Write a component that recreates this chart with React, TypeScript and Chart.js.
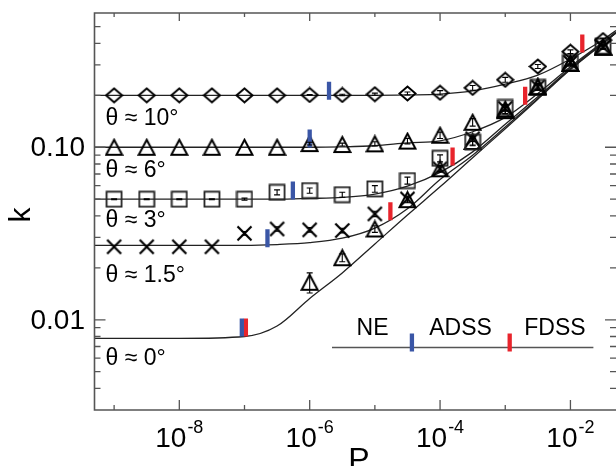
import React, { useEffect, useRef } from "react";
import { Chart, registerables } from "chart.js";

Chart.register(...registerables);

// ---------------- data ----------------
// measured points (P at half-decade steps)
const MARKER_P = [1e-9, 3.16e-9, 1e-8, 3.16e-8, 1e-7, 3.16e-7, 1e-6, 3.16e-6, 1e-5, 3.16e-5, 1e-4, 3.16e-4, 1e-3, 3.16e-3, 1e-2, 3.16e-2];
const K_10 = [0.2, 0.2, 0.2, 0.2, 0.2, 0.2, 0.201, 0.201, 0.203, 0.205, 0.207, 0.221, 0.246, 0.294, 0.358, 0.418];
const ERR_10 = [0, 0, 0, 0, 0, 0, 0.001, 0.002, 0.003, 0.004, 0.006, 0.007, 0.008, 0.008, 0.009, 0.01];
const K_6 = [0.1, 0.1, 0.1, 0.1, 0.1, 0.1, 0.105, 0.1037, 0.1047, 0.1086, 0.1174, 0.1396, 0.166, 0.224, 0.306, 0.38];
const ERR_6 = [0, 0, 0, 0, 0, 0, 0.002, 0.002, 0.003, 0.004, 0.005, 0.007, 0.009, 0.01, 0.01, 0.01];
const K_3 = [0.05, 0.05, 0.05, 0.05, 0.05, 0.0548, 0.0561, 0.0531, 0.0574, 0.0641, 0.0863, 0.107, 0.17, 0.222, 0.31, 0.385];
const ERR_3 = [0.0003, 0.0003, 0.0003, 0.0003, 0.0007, 0.0018, 0.002, 0.0018, 0.0025, 0.003, 0.004, 0.005, 0.007, 0.008, 0.01, 0.01];
const K_15 = [0.0265, 0.0265, 0.0265, 0.0265, 0.0317, 0.0336, 0.0332, 0.0329, 0.0411, 0.0502, 0.075, 0.112, 0.168, 0.224, 0.31, 0.381];
const ERR_15 = [0, 0, 0, 0, 0.0008, 0.001, 0.001, 0.001, 0.0015, 0.002, 0.003, 0.004, 0.006, 0.008, 0.01, 0.01];
const MARKER_P_0 = [1e-6, 3.16e-6, 1e-5, 3.16e-5, 1e-4, 3.16e-4, 1e-3, 3.16e-3, 1e-2, 3.16e-2];
const K_0 = [0.0165, 0.0229, 0.0336, 0.0497, 0.075, 0.108, 0.163, 0.224, 0.306, 0.38];
const ERR_0 = [0.0022, 0.0012, 0.0015, 0.002, 0.003, 0.005, 0.007, 0.009, 0.01, 0.01];

// fitted curves
const CURVE_P = [5e-10, 1e-9, 1e-8, 1e-7, 3.16e-7, 1e-6, 3.16e-6, 1e-5, 3.16e-5, 1e-4, 3.16e-4, 1e-3, 3.16e-3, 1e-2, 3.16e-2, 5e-2];
const FIT_10 = [0.2, 0.2, 0.2, 0.2, 0.2, 0.2, 0.2, 0.2, 0.201, 0.203, 0.212, 0.232, 0.262, 0.325, 0.42, 0.475];
const FIT_6 = [0.1, 0.1, 0.1, 0.1, 0.1, 0.1, 0.1005, 0.102, 0.106, 0.109, 0.123, 0.149, 0.205, 0.293, 0.407, 0.465];
const FIT_3 = [0.05, 0.05, 0.05, 0.05, 0.05, 0.0505, 0.0512, 0.0535, 0.0595, 0.0715, 0.094, 0.136, 0.196, 0.287, 0.403, 0.462];
const FIT_15 = [0.027, 0.027, 0.027, 0.027, 0.0273, 0.028, 0.0297, 0.034, 0.044, 0.065, 0.09, 0.131, 0.192, 0.284, 0.401, 0.46];
const FIT_0 = [0.0078, 0.0078, 0.0078, 0.008, 0.0092, 0.0133, 0.0187, 0.0275, 0.0405, 0.059, 0.087, 0.128, 0.19, 0.282, 0.4, 0.46];

// regime boundary marks (blue: NE -> ADSS, red: ADSS -> FDSS), order 10°,6°,3°,1.5°,0°
const BLUE_P = [1.98e-6, 1.0e-6, 5.52e-7, 2.25e-7, 9.1e-8];
const BLUE_K = [0.2128, 0.1123, 0.0561, 0.0297, 0.00902];
const RED_P = [1.52e-2, 2.02e-3, 1.556e-4, 1.73e-5, 1.05e-7];
const RED_K = [0.399, 0.1986, 0.0885, 0.0425, 0.00902];

// key (NE | ADSS | FDSS)
const KEY_LINE_P = [2.2e-6, 2.25e-2];
const KEY_LINE_K = [0.0069, 0.0069];
const KEY_TICK_P = [3.7e-5, 1.17e-3];
const KEY_TICK_K = [0.00738, 0.00738];
const KEY_WORDS = ["NE", "ADSS", "FDSS"];
const KEY_WORD_P = [9.2e-6, 2.06e-4, 5.78e-3];
const KEY_WORD_K = 0.00816;

const THETA_LABELS = ["θ ≈ 10°", "θ ≈ 6°", "θ ≈ 3°", "θ ≈ 1.5°", "θ ≈ 0°"];

// axes
const X_MIN = 5e-10;
const X_MAX = 5e-2;
const Y_MIN = 0.003;
const Y_MAX = 0.6;
const X_TICKS_P = [1e-9, 1e-8, 1e-7, 1e-6, 1e-5, 1e-4, 1e-3, 1e-2];
const X_LABEL_P = [1e-8, 1e-6, 1e-4, 1e-2];
const X_LABEL_EXP = ["-8", "-6", "-4", "-2"];
const Y_LABEL_K = [0.1, 0.01];
const Y_LABEL_TEXT = ["0.10", "0.01"];
const Y_MINOR_K = [0.004, 0.005, 0.006, 0.007, 0.008, 0.009, 0.02, 0.03, 0.04, 0.05, 0.06, 0.07, 0.08, 0.09, 0.2, 0.3, 0.4, 0.5];

// ---------------- styling ----------------
const FONT = '"Liberation Sans", Arial, Helvetica, sans-serif';
const AXIS_COLOR = "#555";
const BLUE = "#3a56a6";
const RED = "#e8242c";
const THETA_BASELINES = [125, 176.5, 226.5, 281.5, 365];

function makeMarker(kind: string): HTMLCanvasElement {
  const c = document.createElement("canvas");
  const g = c.getContext("2d") as CanvasRenderingContext2D;
  if (kind === "diamond") {
    c.width = 19; c.height = 17;
    g.strokeStyle = "#000"; g.lineWidth = 2;
    g.beginPath();
    g.moveTo(1.5, 8.5); g.lineTo(9.5, 1.5); g.lineTo(17.5, 8.5); g.lineTo(9.5, 15.5); g.closePath();
    g.stroke();
  } else if (kind === "triangle") {
    c.width = 19; c.height = 19;
    g.strokeStyle = "#000"; g.lineWidth = 2;
    g.beginPath();
    g.moveTo(9.5, 2); g.lineTo(17.5, 17); g.lineTo(1.5, 17); g.closePath();
    g.stroke();
  } else if (kind === "square") {
    c.width = 18; c.height = 18;
    g.strokeStyle = "#222"; g.lineWidth = 1.8;
    g.strokeRect(1.5, 1.5, 15, 15);
  } else {
    c.width = 17; c.height = 17;
    g.strokeStyle = "#000"; g.lineWidth = 2.2;
    g.beginPath();
    g.moveTo(1.5, 1.5); g.lineTo(15.5, 15.5);
    g.moveTo(15.5, 1.5); g.lineTo(1.5, 15.5);
    g.stroke();
  }
  return c;
}

const pts = (xs: number[], ys: number[]) => xs.map((x, i) => ({ x, y: ys[i] }));

const errorBarPlugin = {
  id: "errorBars",
  afterDatasetsDraw(chart: any) {
    const { ctx } = chart;
    const xs = chart.scales.x;
    const ys = chart.scales.y;
    ctx.save();
    ctx.strokeStyle = "#000";
    ctx.lineWidth = 1.1;
    chart.data.datasets.forEach((ds: any) => {
      if (!ds.errors) return;
      ds.data.forEach((d: any, i: number) => {
        const e = ds.errors[i];
        if (!e) return;
        const px = xs.getPixelForValue(d.x);
        const top = ys.getPixelForValue(d.y + e);
        const bot = ys.getPixelForValue(Math.max(d.y - e, 1e-6));
        ctx.beginPath();
        ctx.moveTo(px, top); ctx.lineTo(px, bot);
        ctx.moveTo(px - 3, top); ctx.lineTo(px + 3, top);
        ctx.moveTo(px - 3, bot); ctx.lineTo(px + 3, bot);
        ctx.stroke();
      });
    });
    ctx.restore();
  },
};

const decorPlugin = {
  id: "decor",
  afterDraw(chart: any) {
    const { ctx, chartArea: a } = chart;
    const xs = chart.scales.x;
    const ys = chart.scales.y;
    ctx.save();
    // frame
    ctx.strokeStyle = AXIS_COLOR;
    ctx.lineWidth = 1.6;
    ctx.beginPath();
    ctx.moveTo(a.right + 2, a.top);
    ctx.lineTo(a.left, a.top);
    ctx.lineTo(a.left, a.bottom);
    ctx.lineTo(a.right + 2, a.bottom);
    ctx.stroke();
    // inward ticks
    ctx.lineWidth = 1.3;
    ctx.beginPath();
    X_TICKS_P.forEach((p) => {
      const px = xs.getPixelForValue(p);
      const major = X_LABEL_P.some((v) => Math.abs(Math.log10(v) - Math.log10(p)) < 1e-6);
      const len = major ? 10 : 5;
      ctx.moveTo(px, a.bottom); ctx.lineTo(px, a.bottom - len);
      ctx.moveTo(px, a.top); ctx.lineTo(px, a.top + (major ? 8 : 4));
    });
    const yTick = (k: number, len: number) => {
      const py = ys.getPixelForValue(k);
      ctx.moveTo(a.left, py); ctx.lineTo(a.left + len, py);
      ctx.moveTo(a.right, py); ctx.lineTo(a.right - len, py);
    };
    Y_LABEL_K.forEach((k) => yTick(k, 11));
    Y_MINOR_K.forEach((k) => yTick(k, 6));
    ctx.stroke();

    ctx.fillStyle = "#000";
    // x tick labels with superscript exponents
    X_LABEL_P.forEach((p, i) => {
      const px = xs.getPixelForValue(p);
      ctx.font = `28px ${FONT}`;
      const w1 = ctx.measureText("10").width;
      ctx.font = `18px ${FONT}`;
      const w2 = ctx.measureText(X_LABEL_EXP[i]).width;
      const start = px - (w1 + w2 + 1) / 2;
      ctx.textAlign = "left";
      ctx.textBaseline = "alphabetic";
      ctx.font = `28px ${FONT}`;
      ctx.fillText("10", start, 447);
      ctx.font = `18px ${FONT}`;
      ctx.fillText(X_LABEL_EXP[i], start + w1 + 1, 433);
    });
    // y tick labels
    ctx.font = `28px ${FONT}`;
    ctx.textAlign = "right";
    ctx.textBaseline = "middle";
    Y_LABEL_K.forEach((k, i) => {
      ctx.fillText(Y_LABEL_TEXT[i], 85, ys.getPixelForValue(k) + 1);
    });
    // axis titles
    ctx.textAlign = "center";
    ctx.textBaseline = "alphabetic";
    ctx.font = `32px ${FONT}`;
    ctx.fillText("P", 359, 470);
    ctx.save();
    ctx.translate(30, 215);
    ctx.rotate(-Math.PI / 2);
    ctx.font = `30px ${FONT}`;
    ctx.fillText("k", 0, 0);
    ctx.restore();
    // theta labels
    ctx.font = `23px ${FONT}`;
    ctx.textAlign = "left";
    THETA_LABELS.forEach((t, i) => ctx.fillText(t, 105.5, THETA_BASELINES[i]));
    // key words
    ctx.font = `23px ${FONT}`;
    ctx.textAlign = "center";
    KEY_WORDS.forEach((w, i) => {
      ctx.fillText(w, xs.getPixelForValue(KEY_WORD_P[i]), ys.getPixelForValue(KEY_WORD_K));
    });
    ctx.restore();
  },
};

export default function App() {
  const ref = useRef<HTMLCanvasElement | null>(null);
  useEffect(() => {
    if (!ref.current) return;
    const diamond = makeMarker("diamond");
    const triangle = makeMarker("triangle");
    const square = makeMarker("square");
    const cross = makeMarker("cross");
    const fit = (ys: number[]) => ({
      type: "line",
      data: pts(CURVE_P, ys),
      borderColor: "#222",
      borderWidth: 1.3,
      pointRadius: 0,
      cubicInterpolationMode: "monotone",
      fill: false,
      order: 5,
    });
    const markers = (xs: number[], ys: number[], errs: number[], style: HTMLCanvasElement) => ({
      type: "line",
      data: pts(xs, ys),
      errors: errs,
      showLine: false,
      pointStyle: style,
      pointRadius: 8,
      pointHoverRadius: 8,
      order: 3,
    });
    const bars = (xs: number[], ys: number[], color: string | string[]) => ({
      type: "line",
      data: pts(xs, ys),
      showLine: false,
      pointStyle: "line",
      rotation: 90,
      pointRadius: 9,
      pointHoverRadius: 9,
      pointBorderWidth: 4.3,
      pointBorderColor: color,
      pointBackgroundColor: color,
      order: 1,
    });
    const chart = new Chart(ref.current, {
      type: "line",
      data: {
        datasets: [
          fit(FIT_10), fit(FIT_6), fit(FIT_3), fit(FIT_15), fit(FIT_0),
          markers(MARKER_P, K_10, ERR_10, diamond),
          markers(MARKER_P, K_6, ERR_6, triangle),
          markers(MARKER_P, K_3, ERR_3, square),
          markers(MARKER_P, K_15, ERR_15, cross),
          markers(MARKER_P_0, K_0, ERR_0, triangle),
          {
            type: "line",
            data: pts(KEY_LINE_P, KEY_LINE_K),
            borderColor: "#555",
            borderWidth: 1.5,
            pointRadius: 0,
            order: 4,
          },
          bars(BLUE_P, BLUE_K, BLUE),
          bars(RED_P, RED_K, RED),
          bars(KEY_TICK_P, KEY_TICK_K, [BLUE, RED]),
        ] as any,
      },
      options: {
        responsive: false,
        animation: false,
        events: [],
        layout: { autoPadding: false, padding: { left: 94.5, top: 13, right: 0, bottom: 56 } },
        plugins: { legend: { display: false }, tooltip: { enabled: false } },
        scales: {
          x: { type: "logarithmic", min: X_MIN, max: X_MAX, display: false },
          y: { type: "logarithmic", min: Y_MIN, max: Y_MAX, display: false },
        },
      } as any,
      plugins: [errorBarPlugin, decorPlugin],
    });
    return () => chart.destroy();
  }, []);
  return (
    <div style={{ position: "absolute", left: 0, top: 0, width: 616, height: 466, background: "#fff" }}>
      <canvas ref={ref} width={616} height={466} style={{ display: "block" }} />
    </div>
  );
}
